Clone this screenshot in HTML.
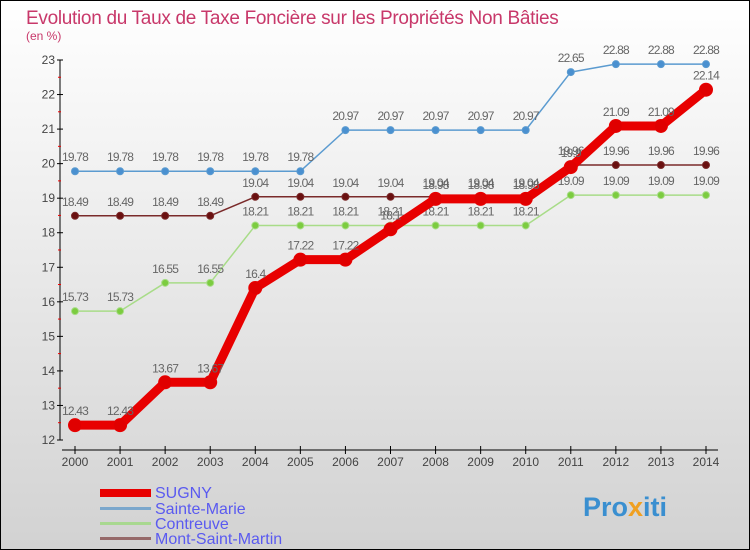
<!DOCTYPE html>
<html><head><meta charset="utf-8"><style>
body{margin:0;width:750px;height:550px;overflow:hidden;font-family:"Liberation Sans",sans-serif}
svg{display:block}
</style></head><body>
<svg id="c" width="750" height="550" xmlns="http://www.w3.org/2000/svg">
<defs><linearGradient id="bg" x1="0" y1="0" x2="0" y2="1"><stop offset="0" stop-color="#ffffff"/><stop offset="1" stop-color="#d2d2d2"/></linearGradient></defs>
<rect x="0.5" y="0.5" width="749" height="549" fill="url(#bg)" stroke="#000"/>
<text x="26" y="24" font-size="19" letter-spacing="-0.3" fill="#c8386a">Evolution du Taux de Taxe Foncière sur les Propriétés Non Bâties</text>
<text x="26" y="40" font-size="12" fill="#c8386a">(en %)</text>
<g id="axes"></g><g id="series"></g>
<g>
<rect x="100" y="489" width="51" height="8" fill="#e80000"/>
<text x="155" y="498" font-size="16" fill="#5a5af0">SUGNY</text>
<rect x="100" y="507" width="51" height="3" fill="#7ba7cc"/>
<text x="155" y="514" font-size="16" fill="#5a5af0">Sainte-Marie</text>
<rect x="100" y="522" width="51" height="3" fill="#a8d890"/>
<text x="155" y="529" font-size="16" fill="#5a5af0">Contreuve</text>
<rect x="100" y="537" width="51" height="3" fill="#966a6a"/>
<text x="155" y="544" font-size="16" fill="#5a5af0">Mont-Saint-Martin</text>
</g>
<text x="583" y="516" font-size="27" font-weight="bold" fill="#3a8fd0">Pro<tspan fill="#f0a020">x</tspan>iti</text>
</svg>
<script>
const years=[2000,2001,2002,2003,2004,2005,2006,2007,2008,2009,2010,2011,2012,2013,2014];
const yTicks=[12,13,14,15,16,17,18,19,20,21,22,23];
const sugny=[12.43,12.43,13.67,13.67,16.4,17.22,17.22,18.1,18.98,18.98,18.98,19.9,21.09,21.09,22.14];
const sainteMarie=[19.78,19.78,19.78,19.78,19.78,19.78,20.97,20.97,20.97,20.97,20.97,22.65,22.88,22.88,22.88];
const contreuve=[15.73,15.73,16.55,16.55,18.21,18.21,18.21,18.21,18.21,18.21,18.21,19.09,19.09,19.09,19.09];
const montSaintMartin=[18.49,18.49,18.49,18.49,19.04,19.04,19.04,19.04,19.04,19.04,19.04,19.96,19.96,19.96,19.96];
const NS="http://www.w3.org/2000/svg";
const X=i=>75+i*(631/(years.length-1));
const Y=v=>440-(v-12)*(380/11);
function mk(tag,attrs,parent,text){const e=document.createElementNS(NS,tag);for(const k in attrs)e.setAttribute(k,attrs[k]);if(text!==undefined)e.textContent=text;parent.appendChild(e);return e;}
const ax=document.getElementById('axes');
let yl=mk('line',{x1:60,y1:60,x2:60,y2:440,stroke:'#000'},ax);


yTicks.forEach(t=>{const y=Y(t);
 mk('line',{x1:57,y1:y,x2:63,y2:y,stroke:'#000'},ax);
 if(t<23)mk('line',{x1:58,y1:y-17.3,x2:61,y2:y-17.3,stroke:'#e00'},ax);
 const tx=mk('text',{x:55,y:y+4,'font-size':12,fill:'#444','text-anchor':'end'},ax,t);
 
 });
let xl=mk('line',{x1:62,y1:450,x2:718,y2:450,stroke:'#000'},ax);


years.forEach((yr,i)=>{const x=X(i);
 mk('line',{x1:x,y1:446,x2:x,y2:454,stroke:'#000'},ax);
 const tx=mk('text',{x:x,y:466,'font-size':12,fill:'#444','text-anchor':'middle'},ax,yr);
 
 });
const sg=document.getElementById('series');
function draw(vals,name,color,w,r,mfill){
 const g=mk('g',{},sg);
 
 
 mk('polyline',{points:vals.map((v,i)=>X(i)+','+Y(v)).join(' '),fill:'none',stroke:color,'stroke-width':w,'stroke-linejoin':'round'},g);
 vals.forEach((v,i)=>{const c=mk('circle',{cx:X(i),cy:Y(v),r:r,fill:mfill,stroke:color,'stroke-width':1},g);
  
  
  const t=mk('text',{x:X(i),y:Y(v)-10,'font-size':12,fill:'#666','text-anchor':'middle','letter-spacing':'-0.8'},g,String(v));
  
  });
}
draw(sainteMarie,'sainte-marie','#5b9bd0',1.5,3.5,'#4a90d0');
draw(contreuve,'contreuve','#a8dc88',1.5,3.5,'#7ccc40');
draw(montSaintMartin,'mont-saint-martin','#7a2a2a',1.5,3.5,'#6a1010');
draw(sugny,'sugny','#e80000',9,6.5,'#e00000');
</script>
</body></html>
